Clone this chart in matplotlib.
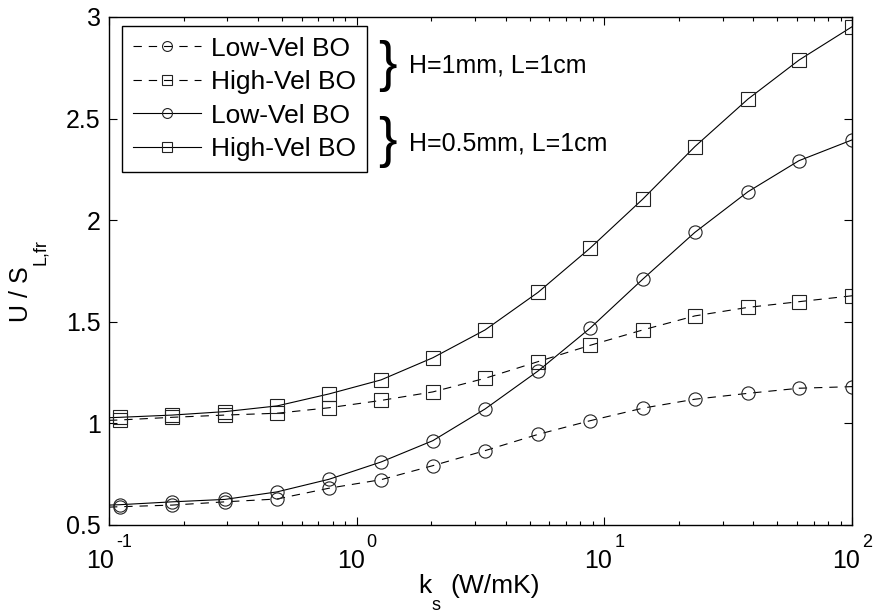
import matplotlib
matplotlib.use("Agg")
import matplotlib.pyplot as plt

plt.rcParams['font.family'] = ['Liberation Sans', 'DejaVu Sans']
plt.rcParams['mathtext.fontset'] = 'custom'
plt.rcParams['mathtext.rm'] = 'Liberation Sans'
plt.rcParams['mathtext.it'] = 'Liberation Sans:italic'
plt.rcParams['mathtext.default'] = 'regular'
plt.rcParams['lines.scale_dashes'] = False

# thermal conductivity of solid (first entry = left edge of the curves, no marker)
k_s = [0.1, 0.111, 0.18, 0.294, 0.477, 0.773, 1.254, 2.03, 3.30, 5.40, 8.75,
       14.3, 23.2, 38.0, 61.1, 100.0]

# H = 1 mm, L = 1 cm (dashed)
low_h1 = [0.588, 0.590, 0.598, 0.614, 0.628, 0.681, 0.723, 0.792, 0.866, 0.946,
          1.013, 1.075, 1.119, 1.148, 1.173, 1.181]
high_h1 = [1.015, 1.017, 1.030, 1.041, 1.050, 1.077, 1.113, 1.155, 1.222, 1.304,
           1.384, 1.460, 1.529, 1.571, 1.599, 1.628]
# H = 0.5 mm, L = 1 cm (solid)
low_h05 = [0.598, 0.600, 0.614, 0.626, 0.663, 0.725, 0.810, 0.915, 1.071, 1.258,
           1.468, 1.710, 1.940, 2.140, 2.293, 2.395]
high_h05 = [1.028, 1.030, 1.041, 1.058, 1.086, 1.145, 1.214, 1.323, 1.460, 1.645,
            1.862, 2.104, 2.362, 2.596, 2.788, 2.952]

labels = ['Low-Vel BO', 'High-Vel BO', 'Low-Vel BO', 'High-Vel BO']
group_labels = ['H=1mm, L=1cm', 'H=0.5mm, L=1cm']
y_ticks = [0.5, 1, 1.5, 2, 2.5, 3]
y_ticklabels = ['0.5', '1', '1.5', '2', '2.5', '3']
x_ticks = [0.1, 1, 10, 100]
x_exponents = ['-1', '0', '1', '2']

W, H = 876, 615
fig = plt.figure(figsize=(W / 100, H / 100), dpi=100)
ax = fig.add_axes([109 / W, 1 - 525 / H, (852 - 109) / W, (525 - 17) / H])


def fx(px):
    return px / W


def fy(py):
    return 1 - py / H


lw = 0.8
ms = 9.5
mk = dict(markevery=slice(1, None), markersize=ms, markerfacecolor='none',
          markeredgecolor='#222222', markeredgewidth=0.8, color='black', lw=lw)
dash = (0, (6, 5))
ax.plot(k_s, low_h1, linestyle=dash, marker='o', label=labels[0], **mk)
ax.plot(k_s, high_h1, linestyle=dash, marker='s', label=labels[1], **mk)
ax.plot(k_s, low_h05, linestyle='-', marker='o', label=labels[2], **mk)
ax.plot(k_s, high_h05, linestyle='-', marker='s', label=labels[3], **mk)

ax.set_xscale('log')
ax.set_xlim(0.1, 100)
ax.set_ylim(0.5, 3)
ax.set_yticks(y_ticks)
ax.set_yticklabels(y_ticklabels)
ax.set_xticks(x_ticks)
ax.set_xticklabels([])
ax.tick_params(which='both', direction='in', top=True, right=True,
               labelsize=18, width=0.8, color='black')
ax.tick_params(which='major', length=5.5, pad=6)
ax.tick_params(which='minor', length=3)
for s in ax.spines.values():
    s.set_linewidth(1.0)

# MATLAB-style x tick labels: "10" with a raised exponent
pairs = []
for t, e in zip(x_ticks, x_exponents):
    a = ax.annotate('10', xy=(t, 0), xycoords=('data', 'axes fraction'),
                    xytext=(0, -43), textcoords='offset pixels',
                    ha='left', va='baseline', fontsize=18)
    b = ax.annotate(e, xy=(t, 0), xycoords=('data', 'axes fraction'),
                    xytext=(0, -22), textcoords='offset pixels',
                    ha='left', va='baseline', fontsize=13)
    pairs.append((a, b))
fig.canvas.draw()
r = fig.canvas.get_renderer()
for a, b in pairs:
    w10 = a.get_window_extent(r).width
    we = b.get_window_extent(r).width
    gap = 2
    total = w10 + gap + we
    a.set_position((-total / 2, -43))
    b.set_position((-total / 2 + w10 + gap, -22))

# axis labels (MATLAB-style deep subscripts)
fig.text(fx(418), fy(593), 'k', fontsize=19, ha='left', va='baseline')
fig.text(fx(432), fy(610), 's', fontsize=13, ha='left', va='baseline')
fig.text(fx(450), fy(593), '(W/mK)', fontsize=19, ha='left', va='baseline')

fig.text(fx(28), fy(322), 'U / S', fontsize=18, rotation=90,
         rotation_mode='anchor', ha='left', va='baseline')
fig.text(fx(45), fy(265), 'L,fr', fontsize=13, rotation=90,
         rotation_mode='anchor', ha='left', va='baseline')

leg = ax.legend(loc='upper left', bbox_to_anchor=(13 / 743, 499 / 508),
                borderaxespad=0, fontsize=19, handlelength=2.6,
                handletextpad=0.38, labelspacing=0.36, borderpad=0.4,
                markerscale=0.75, frameon=True, fancybox=False, framealpha=1)
leg.get_frame().set_edgecolor('black')
leg.get_frame().set_linewidth(1.0)

# braces and group labels
fig.text(fx(378), fy(66), '}', fontsize=40, va='center', ha='left')
fig.text(fx(378), fy(142), '}', fontsize=40, va='center', ha='left')
fig.text(fx(409), fy(66), group_labels[0], fontsize=18, va='center', ha='left')
fig.text(fx(409), fy(143), group_labels[1], fontsize=18, va='center', ha='left')

fig.savefig('out.png', dpi=100)
